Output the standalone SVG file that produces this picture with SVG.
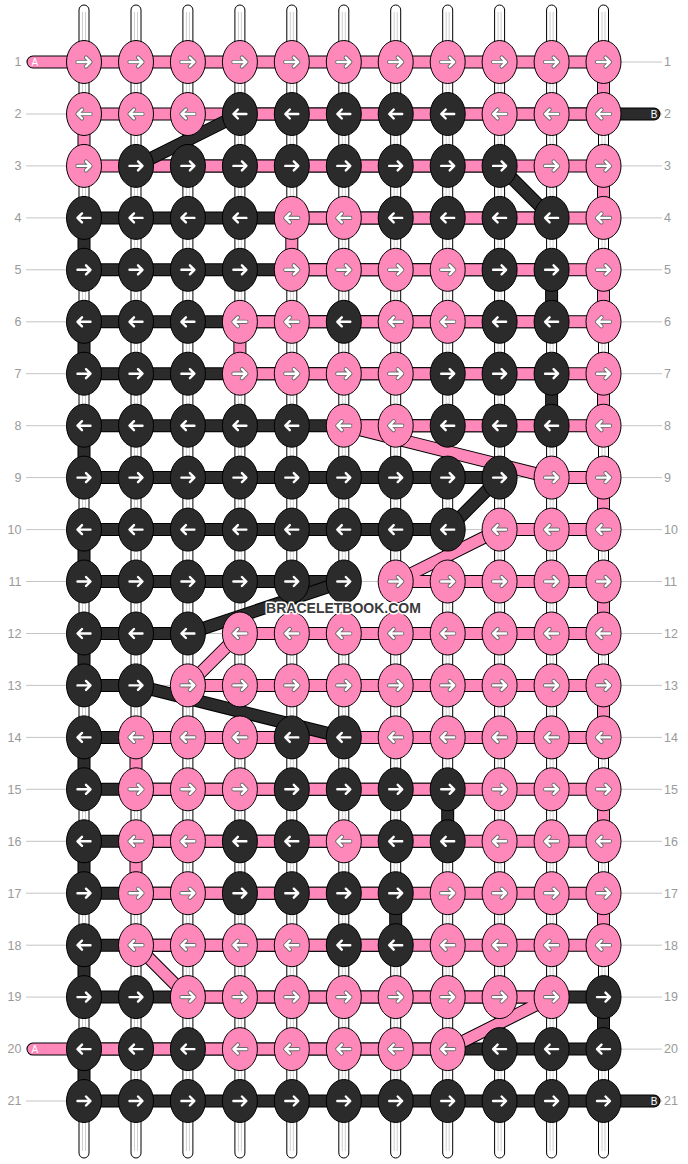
<svg xmlns="http://www.w3.org/2000/svg" xmlns:xlink="http://www.w3.org/1999/xlink" width="688" height="1164" viewBox="0 0 688 1164">
<style>
.bg{fill:#fff}
.vs{fill:#fff;stroke:#000;stroke-width:1}
.vi{stroke:#cfcfcf;stroke-width:1}
.rl{stroke:#c4c4c4;stroke-width:1}
.lb{font-family:"Liberation Sans",Arial,sans-serif;font-size:12.5px;fill:#9a9a9a}
.en{font-family:"Liberation Sans",Arial,sans-serif;font-size:10px;fill:#fff}
.so{fill:none;stroke:#000;stroke-width:13;stroke-linecap:round;stroke-linejoin:round}
.sp{fill:none;stroke:#ff88bb;stroke-width:11;stroke-linecap:round;stroke-linejoin:round}
.sd{fill:none;stroke:#2b2b2b;stroke-width:11;stroke-linecap:round;stroke-linejoin:round}
.kp{fill:#ff88bb;stroke:#000;stroke-width:1}
.kd{fill:#2b2b2b;stroke:#000;stroke-width:1}
.ao{fill:none;stroke:#6a6a6a;stroke-width:4.2;stroke-linecap:round;stroke-linejoin:round}
.aw{fill:none;stroke:#fff;stroke-width:2.4;stroke-linecap:round;stroke-linejoin:round}
.wm{font-family:"Liberation Sans",Arial,sans-serif;font-size:14px;font-weight:bold;fill:#3a3a3a;stroke:#fff;stroke-width:3;paint-order:stroke;stroke-linejoin:round}
</style>
<defs>
<path id="arp" d="M-6.5 0H6M2 -4.5L6.5 0L2 4.5"/>
<g id="arw"><use href="#arp" class="ao"/><use href="#arp" class="aw"/></g>
<g id="ard"><use href="#arp" class="aw"/></g>
<g id="PR"><ellipse rx="17.5" ry="21.5" class="kp"/><use href="#arw"/></g>
<g id="PL"><ellipse rx="17.5" ry="21.5" class="kp"/><use href="#arw" transform="scale(-1 1)"/></g>
<g id="DR"><ellipse rx="17.5" ry="21.5" class="kd"/><use href="#ard"/></g>
<g id="DL"><ellipse rx="17.5" ry="21.5" class="kd"/><use href="#ard" transform="scale(-1 1)"/></g>
<path id="dk1" d="M654 114H239.9"/>
<path id="dk2" d="M136 165.9H499.6"/>
<path id="dk3" d="M551.6 217.9H84V269.8H551.6V321.8H84V373.7H551.6V425.7H84V477.6H499.6"/>
<path id="dk4" d="M447.7 529.6H84V581.5H343.8"/>
<path id="dk5" d="M187.9 633.5H84V685.4H136"/>
<path id="dk6" d="M343.8 737.4H84V789.3H447.7V841.3H84V893.2H395.7V945.2H84V997.1H603.5V1049.1H84V1101H654"/>
<path id="dg1" d="M239.9 114L136 165.9"/>
<path id="dg2" d="M499.6 165.9L551.6 217.9"/>
<path id="dg3" d="M499.6 477.6L447.7 529.6"/>
<path id="dg4" d="M343.8 581.5L187.9 633.5"/>
<path id="dg5" d="M136 685.4L343.8 737.4"/>
<path id="pk" d="M33 62H603.5V114H84V165.9H603.5V217.9H291.8V269.8H603.5V321.8H239.9V373.7H603.5V425.7H343.8L551.6 477.6H603.5V529.6H499.6L395.7 581.5H603.5V633.5H239.9L187.9 685.4H603.5V737.4H136V789.3H603.5V841.3H136V893.2H603.5V945.2H136L187.9 997.1H551.6L447.7 1049.1H33"/>
</defs>
<rect class="bg" x="0" y="0" width="688" height="1164"/>
<g id="base-strings">
<rect class="vs" x="79" y="5" width="10" height="1153" rx="5"/>
<rect class="vs" x="131" y="5" width="10" height="1153" rx="5"/>
<rect class="vs" x="182.9" y="5" width="10" height="1153" rx="5"/>
<rect class="vs" x="234.9" y="5" width="10" height="1153" rx="5"/>
<rect class="vs" x="286.8" y="5" width="10" height="1153" rx="5"/>
<rect class="vs" x="338.8" y="5" width="10" height="1153" rx="5"/>
<rect class="vs" x="390.7" y="5" width="10" height="1153" rx="5"/>
<rect class="vs" x="442.7" y="5" width="10" height="1153" rx="5"/>
<rect class="vs" x="494.6" y="5" width="10" height="1153" rx="5"/>
<rect class="vs" x="546.6" y="5" width="10" height="1153" rx="5"/>
<rect class="vs" x="598.5" y="5" width="10" height="1153" rx="5"/>
<path class="vi" d="M82.5 12V1151M85.5 12V1151M134.5 12V1151M137.5 12V1151M186.4 12V1151M189.4 12V1151M238.4 12V1151M241.4 12V1151M290.3 12V1151M293.3 12V1151M342.3 12V1151M345.3 12V1151M394.2 12V1151M397.2 12V1151M446.2 12V1151M449.2 12V1151M498.1 12V1151M501.1 12V1151M550.1 12V1151M553.1 12V1151M602 12V1151M605 12V1151"/>
</g>
<g id="row-lines">
<path class="rl" d="M26 62H662M26 114H662M26 165.9H662M26 217.9H662M26 269.8H662M26 321.8H662M26 373.7H662M26 425.7H662M26 477.6H662M26 529.6H662M26 581.5H662M26 633.5H662M26 685.4H662M26 737.4H662M26 789.3H662M26 841.3H662M26 893.2H662M26 945.2H662M26 997.1H662M26 1049.1H662M26 1101H662"/>
</g>
<g id="row-labels" class="lb">
<text x="21.5" y="66.3" text-anchor="end">1</text><text x="664" y="66.3">1</text>
<text x="21.5" y="118.3" text-anchor="end">2</text><text x="664" y="118.3">2</text>
<text x="21.5" y="170.2" text-anchor="end">3</text><text x="664" y="170.2">3</text>
<text x="21.5" y="222.2" text-anchor="end">4</text><text x="664" y="222.2">4</text>
<text x="21.5" y="274.1" text-anchor="end">5</text><text x="664" y="274.1">5</text>
<text x="21.5" y="326.1" text-anchor="end">6</text><text x="664" y="326.1">6</text>
<text x="21.5" y="378" text-anchor="end">7</text><text x="664" y="378">7</text>
<text x="21.5" y="430" text-anchor="end">8</text><text x="664" y="430">8</text>
<text x="21.5" y="481.9" text-anchor="end">9</text><text x="664" y="481.9">9</text>
<text x="21.5" y="533.9" text-anchor="end">10</text><text x="664" y="533.9">10</text>
<text x="21.5" y="585.8" text-anchor="end">11</text><text x="664" y="585.8">11</text>
<text x="21.5" y="637.8" text-anchor="end">12</text><text x="664" y="637.8">12</text>
<text x="21.5" y="689.7" text-anchor="end">13</text><text x="664" y="689.7">13</text>
<text x="21.5" y="741.7" text-anchor="end">14</text><text x="664" y="741.7">14</text>
<text x="21.5" y="793.6" text-anchor="end">15</text><text x="664" y="793.6">15</text>
<text x="21.5" y="845.6" text-anchor="end">16</text><text x="664" y="845.6">16</text>
<text x="21.5" y="897.5" text-anchor="end">17</text><text x="664" y="897.5">17</text>
<text x="21.5" y="949.5" text-anchor="end">18</text><text x="664" y="949.5">18</text>
<text x="21.5" y="1001.4" text-anchor="end">19</text><text x="664" y="1001.4">19</text>
<text x="21.5" y="1053.4" text-anchor="end">20</text><text x="664" y="1053.4">20</text>
<text x="21.5" y="1105.3" text-anchor="end">21</text><text x="664" y="1105.3">21</text>
</g>
<g id="connectors">
<g id="string-B-runs">
<use href="#dk1" class="so"/><use href="#dk1" class="sd"/>
<use href="#dk2" class="so"/><use href="#dk2" class="sd"/>
<use href="#dk3" class="so"/><use href="#dk3" class="sd"/>
<use href="#dk4" class="so"/><use href="#dk4" class="sd"/>
<use href="#dk5" class="so"/><use href="#dk5" class="sd"/>
<use href="#dk6" class="so"/><use href="#dk6" class="sd"/>
</g>
<g id="string-A">
<use href="#pk" class="so"/><use href="#pk" class="sp"/>
</g>
<g id="string-B-jumps">
<use href="#dg1" class="so"/><use href="#dg1" class="sd"/>
<use href="#dg2" class="so"/><use href="#dg2" class="sd"/>
<use href="#dg3" class="so"/><use href="#dg3" class="sd"/>
<use href="#dg4" class="so"/><use href="#dg4" class="sd"/>
<use href="#dg5" class="so"/><use href="#dg5" class="sd"/>
</g>
<g id="string-ends" class="en">
<text x="31.5" y="65.7">A</text>
<text x="31.5" y="1052.8">A</text>
<text x="650.8" y="117.7">B</text>
<text x="650.8" y="1104.7">B</text>
</g>
</g>
<g id="knots">
<g id="k1-1" transform="translate(84 62)"><use href="#PR"/></g>
<g id="k1-2" transform="translate(136 62)"><use href="#PR"/></g>
<g id="k1-3" transform="translate(187.9 62)"><use href="#PR"/></g>
<g id="k1-4" transform="translate(239.9 62)"><use href="#PR"/></g>
<g id="k1-5" transform="translate(291.8 62)"><use href="#PR"/></g>
<g id="k1-6" transform="translate(343.8 62)"><use href="#PR"/></g>
<g id="k1-7" transform="translate(395.7 62)"><use href="#PR"/></g>
<g id="k1-8" transform="translate(447.7 62)"><use href="#PR"/></g>
<g id="k1-9" transform="translate(499.6 62)"><use href="#PR"/></g>
<g id="k1-10" transform="translate(551.6 62)"><use href="#PR"/></g>
<g id="k1-11" transform="translate(603.5 62)"><use href="#PR"/></g>
<g id="k2-1" transform="translate(84 114)"><use href="#PL"/></g>
<g id="k2-2" transform="translate(136 114)"><use href="#PL"/></g>
<g id="k2-3" transform="translate(187.9 114)"><use href="#PL"/></g>
<g id="k2-4" transform="translate(239.9 114)"><use href="#DL"/></g>
<g id="k2-5" transform="translate(291.8 114)"><use href="#DL"/></g>
<g id="k2-6" transform="translate(343.8 114)"><use href="#DL"/></g>
<g id="k2-7" transform="translate(395.7 114)"><use href="#DL"/></g>
<g id="k2-8" transform="translate(447.7 114)"><use href="#DL"/></g>
<g id="k2-9" transform="translate(499.6 114)"><use href="#PL"/></g>
<g id="k2-10" transform="translate(551.6 114)"><use href="#PL"/></g>
<g id="k2-11" transform="translate(603.5 114)"><use href="#PL"/></g>
<g id="k3-1" transform="translate(84 165.9)"><use href="#PR"/></g>
<g id="k3-2" transform="translate(136 165.9)"><use href="#DR"/></g>
<g id="k3-3" transform="translate(187.9 165.9)"><use href="#DR"/></g>
<g id="k3-4" transform="translate(239.9 165.9)"><use href="#DR"/></g>
<g id="k3-5" transform="translate(291.8 165.9)"><use href="#DR"/></g>
<g id="k3-6" transform="translate(343.8 165.9)"><use href="#DR"/></g>
<g id="k3-7" transform="translate(395.7 165.9)"><use href="#DR"/></g>
<g id="k3-8" transform="translate(447.7 165.9)"><use href="#DR"/></g>
<g id="k3-9" transform="translate(499.6 165.9)"><use href="#DR"/></g>
<g id="k3-10" transform="translate(551.6 165.9)"><use href="#PR"/></g>
<g id="k3-11" transform="translate(603.5 165.9)"><use href="#PR"/></g>
<g id="k4-1" transform="translate(84 217.9)"><use href="#DL"/></g>
<g id="k4-2" transform="translate(136 217.9)"><use href="#DL"/></g>
<g id="k4-3" transform="translate(187.9 217.9)"><use href="#DL"/></g>
<g id="k4-4" transform="translate(239.9 217.9)"><use href="#DL"/></g>
<g id="k4-5" transform="translate(291.8 217.9)"><use href="#PL"/></g>
<g id="k4-6" transform="translate(343.8 217.9)"><use href="#PL"/></g>
<g id="k4-7" transform="translate(395.7 217.9)"><use href="#DL"/></g>
<g id="k4-8" transform="translate(447.7 217.9)"><use href="#DL"/></g>
<g id="k4-9" transform="translate(499.6 217.9)"><use href="#DL"/></g>
<g id="k4-10" transform="translate(551.6 217.9)"><use href="#DL"/></g>
<g id="k4-11" transform="translate(603.5 217.9)"><use href="#PL"/></g>
<g id="k5-1" transform="translate(84 269.8)"><use href="#DR"/></g>
<g id="k5-2" transform="translate(136 269.8)"><use href="#DR"/></g>
<g id="k5-3" transform="translate(187.9 269.8)"><use href="#DR"/></g>
<g id="k5-4" transform="translate(239.9 269.8)"><use href="#DR"/></g>
<g id="k5-5" transform="translate(291.8 269.8)"><use href="#PR"/></g>
<g id="k5-6" transform="translate(343.8 269.8)"><use href="#PR"/></g>
<g id="k5-7" transform="translate(395.7 269.8)"><use href="#PR"/></g>
<g id="k5-8" transform="translate(447.7 269.8)"><use href="#PR"/></g>
<g id="k5-9" transform="translate(499.6 269.8)"><use href="#DR"/></g>
<g id="k5-10" transform="translate(551.6 269.8)"><use href="#DR"/></g>
<g id="k5-11" transform="translate(603.5 269.8)"><use href="#PR"/></g>
<g id="k6-1" transform="translate(84 321.8)"><use href="#DL"/></g>
<g id="k6-2" transform="translate(136 321.8)"><use href="#DL"/></g>
<g id="k6-3" transform="translate(187.9 321.8)"><use href="#DL"/></g>
<g id="k6-4" transform="translate(239.9 321.8)"><use href="#PL"/></g>
<g id="k6-5" transform="translate(291.8 321.8)"><use href="#PL"/></g>
<g id="k6-6" transform="translate(343.8 321.8)"><use href="#DL"/></g>
<g id="k6-7" transform="translate(395.7 321.8)"><use href="#PL"/></g>
<g id="k6-8" transform="translate(447.7 321.8)"><use href="#PL"/></g>
<g id="k6-9" transform="translate(499.6 321.8)"><use href="#DL"/></g>
<g id="k6-10" transform="translate(551.6 321.8)"><use href="#DL"/></g>
<g id="k6-11" transform="translate(603.5 321.8)"><use href="#PL"/></g>
<g id="k7-1" transform="translate(84 373.7)"><use href="#DR"/></g>
<g id="k7-2" transform="translate(136 373.7)"><use href="#DR"/></g>
<g id="k7-3" transform="translate(187.9 373.7)"><use href="#DR"/></g>
<g id="k7-4" transform="translate(239.9 373.7)"><use href="#PR"/></g>
<g id="k7-5" transform="translate(291.8 373.7)"><use href="#PR"/></g>
<g id="k7-6" transform="translate(343.8 373.7)"><use href="#PR"/></g>
<g id="k7-7" transform="translate(395.7 373.7)"><use href="#PR"/></g>
<g id="k7-8" transform="translate(447.7 373.7)"><use href="#DR"/></g>
<g id="k7-9" transform="translate(499.6 373.7)"><use href="#DR"/></g>
<g id="k7-10" transform="translate(551.6 373.7)"><use href="#DR"/></g>
<g id="k7-11" transform="translate(603.5 373.7)"><use href="#PR"/></g>
<g id="k8-1" transform="translate(84 425.7)"><use href="#DL"/></g>
<g id="k8-2" transform="translate(136 425.7)"><use href="#DL"/></g>
<g id="k8-3" transform="translate(187.9 425.7)"><use href="#DL"/></g>
<g id="k8-4" transform="translate(239.9 425.7)"><use href="#DL"/></g>
<g id="k8-5" transform="translate(291.8 425.7)"><use href="#DL"/></g>
<g id="k8-6" transform="translate(343.8 425.7)"><use href="#PL"/></g>
<g id="k8-7" transform="translate(395.7 425.7)"><use href="#PL"/></g>
<g id="k8-8" transform="translate(447.7 425.7)"><use href="#DL"/></g>
<g id="k8-9" transform="translate(499.6 425.7)"><use href="#DL"/></g>
<g id="k8-10" transform="translate(551.6 425.7)"><use href="#DL"/></g>
<g id="k8-11" transform="translate(603.5 425.7)"><use href="#PL"/></g>
<g id="k9-1" transform="translate(84 477.6)"><use href="#DR"/></g>
<g id="k9-2" transform="translate(136 477.6)"><use href="#DR"/></g>
<g id="k9-3" transform="translate(187.9 477.6)"><use href="#DR"/></g>
<g id="k9-4" transform="translate(239.9 477.6)"><use href="#DR"/></g>
<g id="k9-5" transform="translate(291.8 477.6)"><use href="#DR"/></g>
<g id="k9-6" transform="translate(343.8 477.6)"><use href="#DR"/></g>
<g id="k9-7" transform="translate(395.7 477.6)"><use href="#DR"/></g>
<g id="k9-8" transform="translate(447.7 477.6)"><use href="#DR"/></g>
<g id="k9-9" transform="translate(499.6 477.6)"><use href="#DR"/></g>
<g id="k9-10" transform="translate(551.6 477.6)"><use href="#PR"/></g>
<g id="k9-11" transform="translate(603.5 477.6)"><use href="#PR"/></g>
<g id="k10-1" transform="translate(84 529.6)"><use href="#DL"/></g>
<g id="k10-2" transform="translate(136 529.6)"><use href="#DL"/></g>
<g id="k10-3" transform="translate(187.9 529.6)"><use href="#DL"/></g>
<g id="k10-4" transform="translate(239.9 529.6)"><use href="#DL"/></g>
<g id="k10-5" transform="translate(291.8 529.6)"><use href="#DL"/></g>
<g id="k10-6" transform="translate(343.8 529.6)"><use href="#DL"/></g>
<g id="k10-7" transform="translate(395.7 529.6)"><use href="#DL"/></g>
<g id="k10-8" transform="translate(447.7 529.6)"><use href="#DL"/></g>
<g id="k10-9" transform="translate(499.6 529.6)"><use href="#PL"/></g>
<g id="k10-10" transform="translate(551.6 529.6)"><use href="#PL"/></g>
<g id="k10-11" transform="translate(603.5 529.6)"><use href="#PL"/></g>
<g id="k11-1" transform="translate(84 581.5)"><use href="#DR"/></g>
<g id="k11-2" transform="translate(136 581.5)"><use href="#DR"/></g>
<g id="k11-3" transform="translate(187.9 581.5)"><use href="#DR"/></g>
<g id="k11-4" transform="translate(239.9 581.5)"><use href="#DR"/></g>
<g id="k11-5" transform="translate(291.8 581.5)"><use href="#DR"/></g>
<g id="k11-6" transform="translate(343.8 581.5)"><use href="#DR"/></g>
<g id="k11-7" transform="translate(395.7 581.5)"><use href="#PR"/></g>
<g id="k11-8" transform="translate(447.7 581.5)"><use href="#PR"/></g>
<g id="k11-9" transform="translate(499.6 581.5)"><use href="#PR"/></g>
<g id="k11-10" transform="translate(551.6 581.5)"><use href="#PR"/></g>
<g id="k11-11" transform="translate(603.5 581.5)"><use href="#PR"/></g>
<g id="k12-1" transform="translate(84 633.5)"><use href="#DL"/></g>
<g id="k12-2" transform="translate(136 633.5)"><use href="#DL"/></g>
<g id="k12-3" transform="translate(187.9 633.5)"><use href="#DL"/></g>
<g id="k12-4" transform="translate(239.9 633.5)"><use href="#PL"/></g>
<g id="k12-5" transform="translate(291.8 633.5)"><use href="#PL"/></g>
<g id="k12-6" transform="translate(343.8 633.5)"><use href="#PL"/></g>
<g id="k12-7" transform="translate(395.7 633.5)"><use href="#PL"/></g>
<g id="k12-8" transform="translate(447.7 633.5)"><use href="#PL"/></g>
<g id="k12-9" transform="translate(499.6 633.5)"><use href="#PL"/></g>
<g id="k12-10" transform="translate(551.6 633.5)"><use href="#PL"/></g>
<g id="k12-11" transform="translate(603.5 633.5)"><use href="#PL"/></g>
<g id="k13-1" transform="translate(84 685.4)"><use href="#DR"/></g>
<g id="k13-2" transform="translate(136 685.4)"><use href="#DR"/></g>
<g id="k13-3" transform="translate(187.9 685.4)"><use href="#PR"/></g>
<g id="k13-4" transform="translate(239.9 685.4)"><use href="#PR"/></g>
<g id="k13-5" transform="translate(291.8 685.4)"><use href="#PR"/></g>
<g id="k13-6" transform="translate(343.8 685.4)"><use href="#PR"/></g>
<g id="k13-7" transform="translate(395.7 685.4)"><use href="#PR"/></g>
<g id="k13-8" transform="translate(447.7 685.4)"><use href="#PR"/></g>
<g id="k13-9" transform="translate(499.6 685.4)"><use href="#PR"/></g>
<g id="k13-10" transform="translate(551.6 685.4)"><use href="#PR"/></g>
<g id="k13-11" transform="translate(603.5 685.4)"><use href="#PR"/></g>
<g id="k14-1" transform="translate(84 737.4)"><use href="#DL"/></g>
<g id="k14-2" transform="translate(136 737.4)"><use href="#PL"/></g>
<g id="k14-3" transform="translate(187.9 737.4)"><use href="#PL"/></g>
<g id="k14-4" transform="translate(239.9 737.4)"><use href="#PL"/></g>
<g id="k14-5" transform="translate(291.8 737.4)"><use href="#DL"/></g>
<g id="k14-6" transform="translate(343.8 737.4)"><use href="#DL"/></g>
<g id="k14-7" transform="translate(395.7 737.4)"><use href="#PL"/></g>
<g id="k14-8" transform="translate(447.7 737.4)"><use href="#PL"/></g>
<g id="k14-9" transform="translate(499.6 737.4)"><use href="#PL"/></g>
<g id="k14-10" transform="translate(551.6 737.4)"><use href="#PL"/></g>
<g id="k14-11" transform="translate(603.5 737.4)"><use href="#PL"/></g>
<g id="k15-1" transform="translate(84 789.3)"><use href="#DR"/></g>
<g id="k15-2" transform="translate(136 789.3)"><use href="#PR"/></g>
<g id="k15-3" transform="translate(187.9 789.3)"><use href="#PR"/></g>
<g id="k15-4" transform="translate(239.9 789.3)"><use href="#PR"/></g>
<g id="k15-5" transform="translate(291.8 789.3)"><use href="#DR"/></g>
<g id="k15-6" transform="translate(343.8 789.3)"><use href="#DR"/></g>
<g id="k15-7" transform="translate(395.7 789.3)"><use href="#DR"/></g>
<g id="k15-8" transform="translate(447.7 789.3)"><use href="#DR"/></g>
<g id="k15-9" transform="translate(499.6 789.3)"><use href="#PR"/></g>
<g id="k15-10" transform="translate(551.6 789.3)"><use href="#PR"/></g>
<g id="k15-11" transform="translate(603.5 789.3)"><use href="#PR"/></g>
<g id="k16-1" transform="translate(84 841.3)"><use href="#DL"/></g>
<g id="k16-2" transform="translate(136 841.3)"><use href="#PL"/></g>
<g id="k16-3" transform="translate(187.9 841.3)"><use href="#PL"/></g>
<g id="k16-4" transform="translate(239.9 841.3)"><use href="#DL"/></g>
<g id="k16-5" transform="translate(291.8 841.3)"><use href="#DL"/></g>
<g id="k16-6" transform="translate(343.8 841.3)"><use href="#PL"/></g>
<g id="k16-7" transform="translate(395.7 841.3)"><use href="#DL"/></g>
<g id="k16-8" transform="translate(447.7 841.3)"><use href="#DL"/></g>
<g id="k16-9" transform="translate(499.6 841.3)"><use href="#PL"/></g>
<g id="k16-10" transform="translate(551.6 841.3)"><use href="#PL"/></g>
<g id="k16-11" transform="translate(603.5 841.3)"><use href="#PL"/></g>
<g id="k17-1" transform="translate(84 893.2)"><use href="#DR"/></g>
<g id="k17-2" transform="translate(136 893.2)"><use href="#PR"/></g>
<g id="k17-3" transform="translate(187.9 893.2)"><use href="#PR"/></g>
<g id="k17-4" transform="translate(239.9 893.2)"><use href="#DR"/></g>
<g id="k17-5" transform="translate(291.8 893.2)"><use href="#DR"/></g>
<g id="k17-6" transform="translate(343.8 893.2)"><use href="#DR"/></g>
<g id="k17-7" transform="translate(395.7 893.2)"><use href="#DR"/></g>
<g id="k17-8" transform="translate(447.7 893.2)"><use href="#PR"/></g>
<g id="k17-9" transform="translate(499.6 893.2)"><use href="#PR"/></g>
<g id="k17-10" transform="translate(551.6 893.2)"><use href="#PR"/></g>
<g id="k17-11" transform="translate(603.5 893.2)"><use href="#PR"/></g>
<g id="k18-1" transform="translate(84 945.2)"><use href="#DL"/></g>
<g id="k18-2" transform="translate(136 945.2)"><use href="#PL"/></g>
<g id="k18-3" transform="translate(187.9 945.2)"><use href="#PL"/></g>
<g id="k18-4" transform="translate(239.9 945.2)"><use href="#PL"/></g>
<g id="k18-5" transform="translate(291.8 945.2)"><use href="#PL"/></g>
<g id="k18-6" transform="translate(343.8 945.2)"><use href="#DL"/></g>
<g id="k18-7" transform="translate(395.7 945.2)"><use href="#DL"/></g>
<g id="k18-8" transform="translate(447.7 945.2)"><use href="#PL"/></g>
<g id="k18-9" transform="translate(499.6 945.2)"><use href="#PL"/></g>
<g id="k18-10" transform="translate(551.6 945.2)"><use href="#PL"/></g>
<g id="k18-11" transform="translate(603.5 945.2)"><use href="#PL"/></g>
<g id="k19-1" transform="translate(84 997.1)"><use href="#DR"/></g>
<g id="k19-2" transform="translate(136 997.1)"><use href="#DR"/></g>
<g id="k19-3" transform="translate(187.9 997.1)"><use href="#PR"/></g>
<g id="k19-4" transform="translate(239.9 997.1)"><use href="#PR"/></g>
<g id="k19-5" transform="translate(291.8 997.1)"><use href="#PR"/></g>
<g id="k19-6" transform="translate(343.8 997.1)"><use href="#PR"/></g>
<g id="k19-7" transform="translate(395.7 997.1)"><use href="#PR"/></g>
<g id="k19-8" transform="translate(447.7 997.1)"><use href="#PR"/></g>
<g id="k19-9" transform="translate(499.6 997.1)"><use href="#PR"/></g>
<g id="k19-10" transform="translate(551.6 997.1)"><use href="#PR"/></g>
<g id="k19-11" transform="translate(603.5 997.1)"><use href="#DR"/></g>
<g id="k20-1" transform="translate(84 1049.1)"><use href="#DL"/></g>
<g id="k20-2" transform="translate(136 1049.1)"><use href="#DL"/></g>
<g id="k20-3" transform="translate(187.9 1049.1)"><use href="#DL"/></g>
<g id="k20-4" transform="translate(239.9 1049.1)"><use href="#PL"/></g>
<g id="k20-5" transform="translate(291.8 1049.1)"><use href="#PL"/></g>
<g id="k20-6" transform="translate(343.8 1049.1)"><use href="#PL"/></g>
<g id="k20-7" transform="translate(395.7 1049.1)"><use href="#PL"/></g>
<g id="k20-8" transform="translate(447.7 1049.1)"><use href="#PL"/></g>
<g id="k20-9" transform="translate(499.6 1049.1)"><use href="#DL"/></g>
<g id="k20-10" transform="translate(551.6 1049.1)"><use href="#DL"/></g>
<g id="k20-11" transform="translate(603.5 1049.1)"><use href="#DL"/></g>
<g id="k21-1" transform="translate(84 1101)"><use href="#DR"/></g>
<g id="k21-2" transform="translate(136 1101)"><use href="#DR"/></g>
<g id="k21-3" transform="translate(187.9 1101)"><use href="#DR"/></g>
<g id="k21-4" transform="translate(239.9 1101)"><use href="#DR"/></g>
<g id="k21-5" transform="translate(291.8 1101)"><use href="#DR"/></g>
<g id="k21-6" transform="translate(343.8 1101)"><use href="#DR"/></g>
<g id="k21-7" transform="translate(395.7 1101)"><use href="#DR"/></g>
<g id="k21-8" transform="translate(447.7 1101)"><use href="#DR"/></g>
<g id="k21-9" transform="translate(499.6 1101)"><use href="#DR"/></g>
<g id="k21-10" transform="translate(551.6 1101)"><use href="#DR"/></g>
<g id="k21-11" transform="translate(603.5 1101)"><use href="#DR"/></g>
</g>
<text id="watermark" class="wm" x="343.5" y="612.5" text-anchor="middle">BRACELETBOOK.COM</text>
</svg>
